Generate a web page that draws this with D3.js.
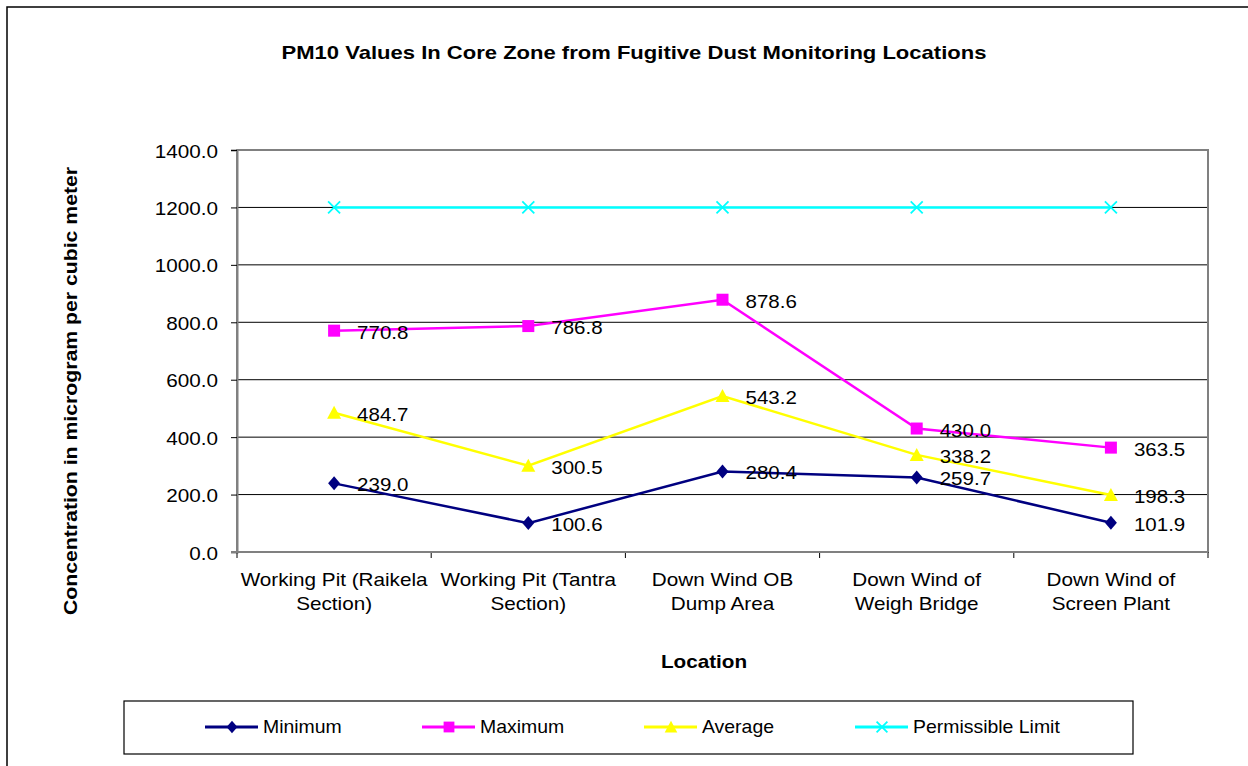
<!DOCTYPE html>
<html><head><meta charset="utf-8">
<script src="https://cdn.jsdelivr.net/npm/d3@7/dist/d3.min.js"></script>
<style>body{margin:0;background:#fff}svg{display:block}text{font-family:Arial,"Liberation Sans",sans-serif}</style>
</head><body>
<svg id="c" width="1248" height="766"></svg>
<script>
const categories = [["Working Pit (Raikela","Section)"],["Working Pit (Tantra","Section)"],["Down Wind OB","Dump Area"],["Down Wind of","Weigh Bridge"],["Down Wind of","Screen Plant"]];
const minimum = [239.0, 100.6, 280.4, 259.7, 101.9];
const maximum = [770.8, 786.8, 878.6, 430.0, 363.5];
const average = [484.7, 300.5, 543.2, 338.2, 198.3];
const limit = [1200, 1200, 1200, 1200, 1200];
const yTicks = [0,200,400,600,800,1000,1200,1400];
const seriesNames = ["Minimum","Maximum","Average","Permissible Limit"];
const seriesColors = ["#000080","#FF00FF","#FFFF00","#00FFFF"];
const seriesSymbols = ["diamond","square","triangle","x"];
const series = [minimum, maximum, average, limit];

const svg = d3.select("#c");
const L=237, R=1208, T=150, B=552;
const SX = 1.15, FS = 18;
const x = d3.scaleBand().domain(d3.range(categories.length)).range([L,R]);
const y = d3.scaleLinear().domain([0,1400]).range([B,T]);

function txt(g, px, py, str, opts={}){
  const t = g.append("text")
    .attr("transform",`translate(${px},${py})${opts.rot?` rotate(${opts.rot})`:""} scale(${opts.sx||SX},1)`)
    .attr("text-anchor",opts.anchor||"start")
    .attr("font-size",opts.size||FS).attr("fill","#000").text(str);
  if(opts.bold) t.attr("font-weight","bold");
  return t;
}

// outer border
svg.append("rect").attr("x",7).attr("y",7).attr("width",1400).attr("height",1000)
  .attr("fill","none").attr("stroke","#000").attr("stroke-width",1.5);

// gridlines
svg.append("g").selectAll("line").data(yTicks.filter(d=>d>0)).join("line")
  .attr("x1",L).attr("x2",R).attr("y1",d=>y(d)).attr("y2",d=>y(d))
  .attr("stroke","#000").attr("stroke-width",1);
// plot border
svg.append("rect").attr("x",L).attr("y",T).attr("width",R-L).attr("height",B-T)
  .attr("fill","none").attr("stroke","#808080").attr("stroke-width",2);

// y axis
const ya = svg.append("g").attr("transform",`translate(${L},0)`)
  .call(d3.axisLeft(y).tickValues(yTicks).tickFormat(d3.format(".1f")).tickSize(6).tickPadding(7));
ya.select(".domain").attr("stroke","#808080").attr("stroke-width",2);
ya.selectAll(".tick line").attr("stroke","#000");
ya.selectAll(".tick text").attr("x",null).attr("dy",null)
  .attr("transform",`translate(-19,7) scale(${SX},1)`)
  .attr("font-size",FS).attr("fill","#000").style("font-family","Arial,'Liberation Sans',sans-serif");

// x axis ticks at band edges
const edges = d3.range(categories.length+1).map(i=> i<categories.length ? x(i) : R);
svg.append("g").selectAll("line").data(edges).join("line")
  .attr("x1",d=>d).attr("x2",d=>d).attr("y1",B).attr("y2",B+6).attr("stroke","#000");
svg.append("line").attr("x1",L-6).attr("x2",R).attr("y1",B).attr("y2",B).attr("stroke","#808080").attr("stroke-width",2);

// x labels
const xg = svg.append("g");
categories.forEach((lines,i)=>{
  lines.forEach((s,j)=> txt(xg, x(i)+x.bandwidth()/2, 586+j*24, s, {anchor:"middle"}));
});

// titles
txt(svg, 634, 59, "PM10 Values In Core Zone from Fugitive Dust Monitoring Locations", {anchor:"middle", bold:true, size:19, sx:1.16});
txt(svg, 704, 668, "Location", {anchor:"middle", bold:true});
txt(svg, 77, 391, "Concentration in microgram per cubic meter", {anchor:"middle", bold:true, rot:-90, sx:1.18});

const cx = i => x(i)+x.bandwidth()/2;
function drawMarker(g, sym, color, px, py, k=1){
  if(sym==="diamond") g.append("path").attr("d",`M${px},${py-7*k}L${px+6*k},${py}L${px},${py+7*k}L${px-6*k},${py}Z`).attr("fill",color);
  else if(sym==="square") g.append("rect").attr("x",px-6*k).attr("y",py-6*k).attr("width",12*k).attr("height",12*k).attr("fill",color);
  else if(sym==="triangle") g.append("path").attr("d",`M${px},${py-7*k}L${px+7*k},${py+6*k}L${px-7*k},${py+6*k}Z`).attr("fill",color);
  else if(sym==="x") g.append("path").attr("d",`M${px-6*k},${py-6*k}L${px+6*k},${py+6*k}M${px+6*k},${py-6*k}L${px-6*k},${py+6*k}`).attr("stroke",color).attr("stroke-width",1.8);
}
const line = d3.line().x((d,i)=>cx(i)).y(d=>y(d));
[3,2,1,0].forEach(s=>{
  const g = svg.append("g");
  g.append("path").attr("d",line(series[s])).attr("fill","none").attr("stroke",seriesColors[s]).attr("stroke-width",2.5);
  series[s].forEach((v,i)=>drawMarker(g, seriesSymbols[s], seriesColors[s], cx(i), y(v)));
});
// data labels
const lg = svg.append("g");
[0,1,2].forEach(s=>{
  series[s].forEach((v,i)=> txt(lg, cx(i)+23, y(v)+8, d3.format(".1f")(v), {sx:1.14}));
});

// legend
svg.append("rect").attr("x",124).attr("y",701).attr("width",1009).attr("height",53)
  .attr("fill","#fff").attr("stroke","#000").attr("stroke-width",1.2);
const lx = [205, 422, 644, 855];
seriesNames.forEach((n,s)=>{
  const g = svg.append("g");
  g.append("line").attr("x1",lx[s]).attr("x2",lx[s]+53).attr("y1",727).attr("y2",727).attr("stroke",seriesColors[s]).attr("stroke-width",3);
  drawMarker(g, seriesSymbols[s], seriesColors[s], lx[s]+27, 727, 0.9);
  txt(g, lx[s]+58, 733, n, {sx:1.08});
});
</script>
</body></html>
